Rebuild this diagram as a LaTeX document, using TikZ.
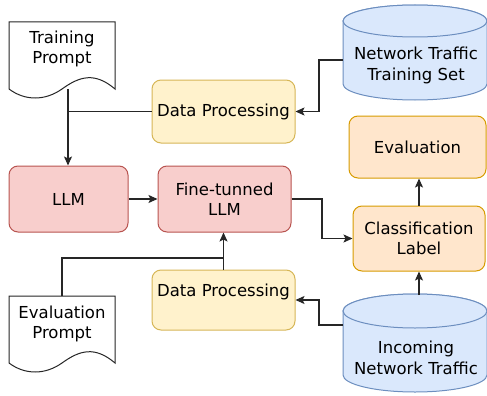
\documentclass[tikz,border=0pt]{standalone}
\usepackage{fontspec}
\setmainfont{DejaVu Sans}
\usetikzlibrary{arrows.meta,calc}
\definecolor{redfill}{HTML}{F8CECC}\definecolor{redline}{HTML}{B85450}
\definecolor{yelfill}{HTML}{FFF2CC}\definecolor{yelline}{HTML}{D6B656}
\definecolor{bluefill}{HTML}{DAE8FC}\definecolor{blueline}{HTML}{6C8EBF}
\definecolor{orafill}{HTML}{FFE6CC}\definecolor{oraline}{HTML}{D79B00}
\begin{document}
\begin{tikzpicture}[x=1pt,y=-1pt,
  every node/.style={font=\fontsize{16.5}{20.5}\selectfont, align=center, inner sep=0pt},
  rbox/.style={draw, rounded corners=9pt, line width=1pt},
  redbox/.style={rbox, fill=redfill, draw=redline},
  yelbox/.style={rbox, fill=yelfill, draw=yelline, minimum width=143pt},
  orabox/.style={rbox, fill=orafill, draw=oraline},
  docshape/.style={draw=black!85, fill=white, line width=1pt},
  cylshape/.style={draw=blueline, fill=bluefill, line width=1pt},
  conn/.style={draw=black!85, line width=1.1pt},
  arr/.style={conn, -{Stealth[length=9pt,width=8pt,inset=2pt]}}
]
\useasboundingbox (0,0) rectangle (487,396);

% documents
\path[docshape] (9,22) -- (115,22) -- (115,89)
  .. controls (95,72) and (80,76) .. (62,89)
  .. controls (45,101) and (25,101) .. (9,89) -- cycle;
\node (tp) at (62,49) {Training\\Prompt};
\path[docshape] (9,296) -- (115,296) -- (115,363)
  .. controls (95,346) and (80,350) .. (62,363)
  .. controls (45,375) and (25,375) .. (9,363) -- cycle;
\node (ep) at (62,324) {Evaluation\\Prompt};

% cylinders
\path[cylshape] (343,21) -- (343,84) arc[start angle=180,end angle=360,x radius=72pt,y radius=16pt]
  -- (487,21) arc[start angle=0,end angle=180,x radius=72pt,y radius=16pt] -- cycle;
\path[cylshape] (415,21) ellipse[x radius=72pt,y radius=16pt];
\node (ts) at (416,65.5) {Network Traffic\\Training Set};
\path[cylshape] (343,311) -- (343,375) arc[start angle=180,end angle=360,x radius=72pt,y radius=17pt]
  -- (487,311) arc[start angle=0,end angle=180,x radius=72pt,y radius=17pt] -- cycle;
\path[cylshape] (415,311) ellipse[x radius=72pt,y radius=17pt];
\node (it) at (416,358) {Incoming\\Network Traffic};

% boxes
\node[yelbox, minimum height=63pt] (dp1) at (223.5,111.5) {Data Processing};
\node[redbox, minimum width=119pt, minimum height=66pt] (llm) at (68.5,199) {LLM};
\node[redbox, minimum width=133pt, minimum height=66pt] (ft) at (224.5,199) {Fine-tunned\\LLM};
\node[orabox, minimum width=137pt, minimum height=62pt] (ev) at (417.5,147) {Evaluation};
\node[orabox, minimum width=132pt, minimum height=65pt] (cl) at (419,238.5) {Classification\\Label};
\node[yelbox, minimum height=60pt, text height=12pt, text depth=20pt] (dp2) at (223.5,300) {Data Processing};

% connector end points
\coordinate (tpout) at (68,89);
\coordinate (epout) at (62,296);
\coordinate (tsout) at (343,60);
\coordinate (itout) at (343,325);
\coordinate (ittop) at (419,295);
\coordinate (j2) at (223.5,258);

% connectors
\draw[arr] (tpout) -- (tpout |- llm.north);
\draw[conn] (dp1.west) -- (dp1.west -| tpout);
\draw[arr] (tsout) -- (319,60) |- (dp1.east);
\draw[arr] (llm.east) -- (ft.west);
\draw[arr] (ft.east) -- (322,199) |- (cl.west);
\draw[arr] (cl.north) -- (cl.north |- ev.south);
\draw[arr] (ittop) -- (cl.south);
\draw[arr] (itout) -- (319,325) |- (dp2.east);
\draw[arr] (dp2.north) -- (dp2.north |- ft.south);
\draw[conn] (epout) |- (j2);
\end{tikzpicture}
\end{document}
